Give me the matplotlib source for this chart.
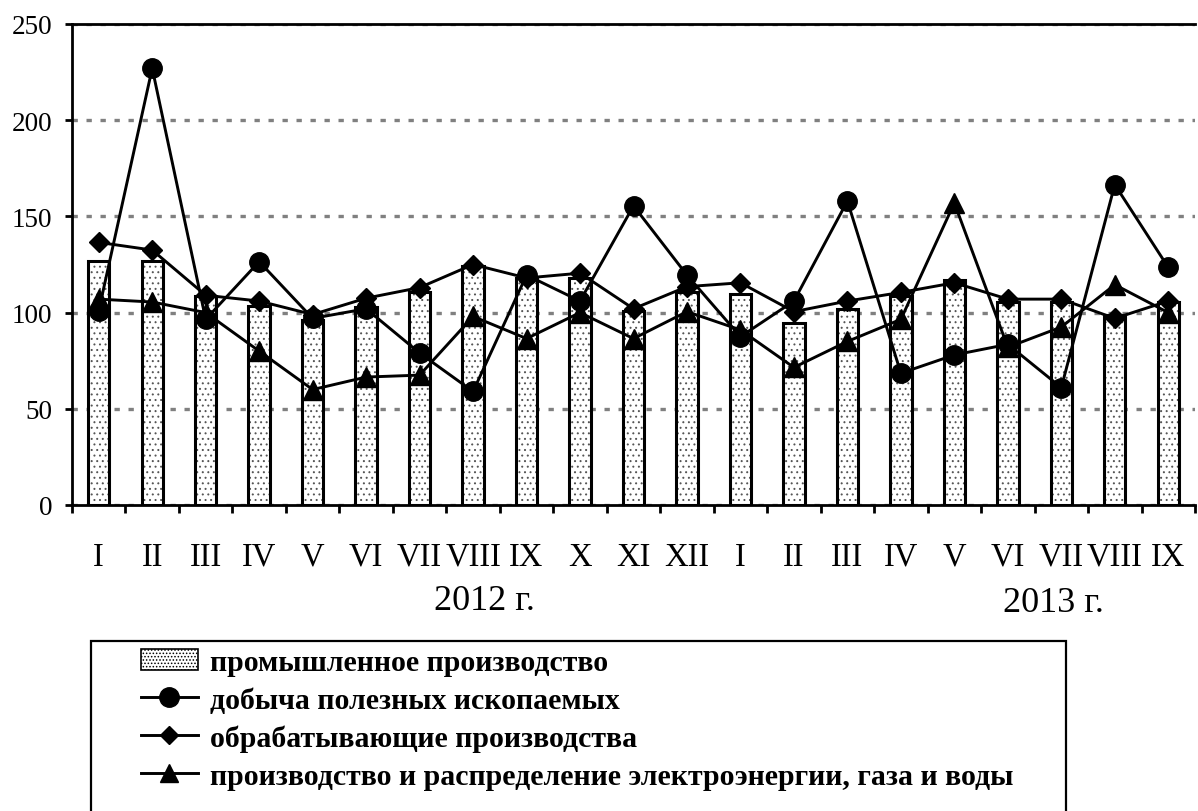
import numpy as np
import matplotlib
matplotlib.use("Agg")
import matplotlib.pyplot as plt
from matplotlib.lines import Line2D
from matplotlib.patches import Patch, Rectangle

plt.rcParams['font.family'] = ['Liberation Serif', 'DejaVu Serif']
plt.rcParams['hatch.linewidth'] = 0.7

# months of 2012 (12) and 2013 (9)
months = ['I', 'II', 'III', 'IV', 'V', 'VI', 'VII', 'VIII', 'IX', 'X', 'XI', 'XII',
          'I', 'II', 'III', 'IV', 'V', 'VI', 'VII', 'VIII', 'IX']
years = ['2012 г.', '2013 г.']

industry = [127, 127, 108.5, 103.5, 96, 103, 110.5, 124, 118, 118, 101, 110.5,
            109.5, 94.5, 102, 108.5, 117, 105.5, 105.5, 98.5, 105.5]
mining = [101, 227, 96.5, 126.5, 97, 102, 79, 59, 119.5, 106, 155.5, 119.5,
          87.5, 106, 158, 68.5, 78, 83.5, 61, 166.5, 123.5]
manufacturing = [136.5, 132.5, 109, 106, 99, 107.5, 113, 125, 118, 120.5, 102, 113.5,
                 115.5, 100.5, 106, 110.5, 115.5, 107, 107, 97, 106]
energy = [107, 105.5, 100, 80, 60, 66.5, 67.5, 98, 86.5, 100, 86.5, 100.5,
          91, 71.5, 85, 96.5, 157, 82, 92.5, 114.5, 100]

labels = ['промышленное производство',
          'добыча полезных ископаемых',
          'обрабатывающие производства',
          'производство и распределение электроэнергии, газа и воды']

fig = plt.figure(figsize=(11.98, 8.12), dpi=100)
ax = fig.add_axes([72 / 1198, 1 - 506 / 812, (1195 - 72) / 1198, (506 - 25) / 812])

x = np.arange(len(months))
# dotted fill, then the black outline on top
ax.bar(x, industry, width=0.4, facecolor='white', edgecolor='#555555',
       linewidth=0, hatch='...', zorder=2)
ax.bar(x, industry, width=0.4, facecolor='none', edgecolor='black',
       linewidth=2.2, zorder=2)

lw = 2.1
ax.plot(x, energy, color='black', lw=lw, marker='^', ms=14, zorder=3)
ax.plot(x, manufacturing, color='black', lw=lw, marker='D', ms=10, zorder=4)
ax.plot(x, mining, color='black', lw=lw, marker='o', ms=14, zorder=5)

ax.set_xlim(-0.5, len(months) - 0.5)
ax.set_ylim(0, 250)
ax.set_yticks([0, 50, 100, 150, 200, 250])
ax.yaxis.grid(True, color='#808080', linestyle=(0, (1.6, 2.6)), linewidth=2.4, zorder=0)
ax.set_axisbelow(True)

ax.set_xticks(x)
ax.set_xticklabels(months)
ax.set_xticks(np.arange(len(months) + 1) - 0.5, minor=True)
ax.tick_params(axis='x', which='major', length=0, pad=26, labelsize=23.5)
ax.tick_params(axis='x', which='minor', length=6, width=2, direction='out')
ax.tick_params(axis='y', length=5, width=2, pad=9, labelsize=19.5)

for s in ['left', 'bottom', 'top']:
    ax.spines[s].set_linewidth(2)
ax.spines['right'].set_visible(False)

fig.text(484 / 1198, 1 - 602 / 812, years[0], ha='center', va='center', fontsize=26)
fig.text(1053 / 1198, 1 - 604 / 812, years[1], ha='center', va='center', fontsize=26)

# legend box (bottom runs off the figure)
fig.patches.append(Rectangle((91 / 1198, -0.05), (1066 - 91) / 1198, (812 - 642) / 812 + 0.05,
                             transform=fig.transFigure, facecolor='none',
                             edgecolor='black', linewidth=1.6))

handles = [Patch(facecolor='white', edgecolor='black', hatch='.....', linewidth=1.2),
           Line2D([], [], color='black', lw=lw, marker='o', ms=14),
           Line2D([], [], color='black', lw=lw, marker='D', ms=9),
           Line2D([], [], color='black', lw=lw, marker='^', ms=13)]
fig.legend(handles, labels, loc='upper left', bbox_to_anchor=(129 / 1198, 1 - 638 / 812),
           frameon=False, prop={'weight': 'bold', 'size': 21.5},
           handlelength=1.9, handletextpad=0.42, labelspacing=0.36, borderaxespad=0)

fig.savefig('out.png', dpi=100)
